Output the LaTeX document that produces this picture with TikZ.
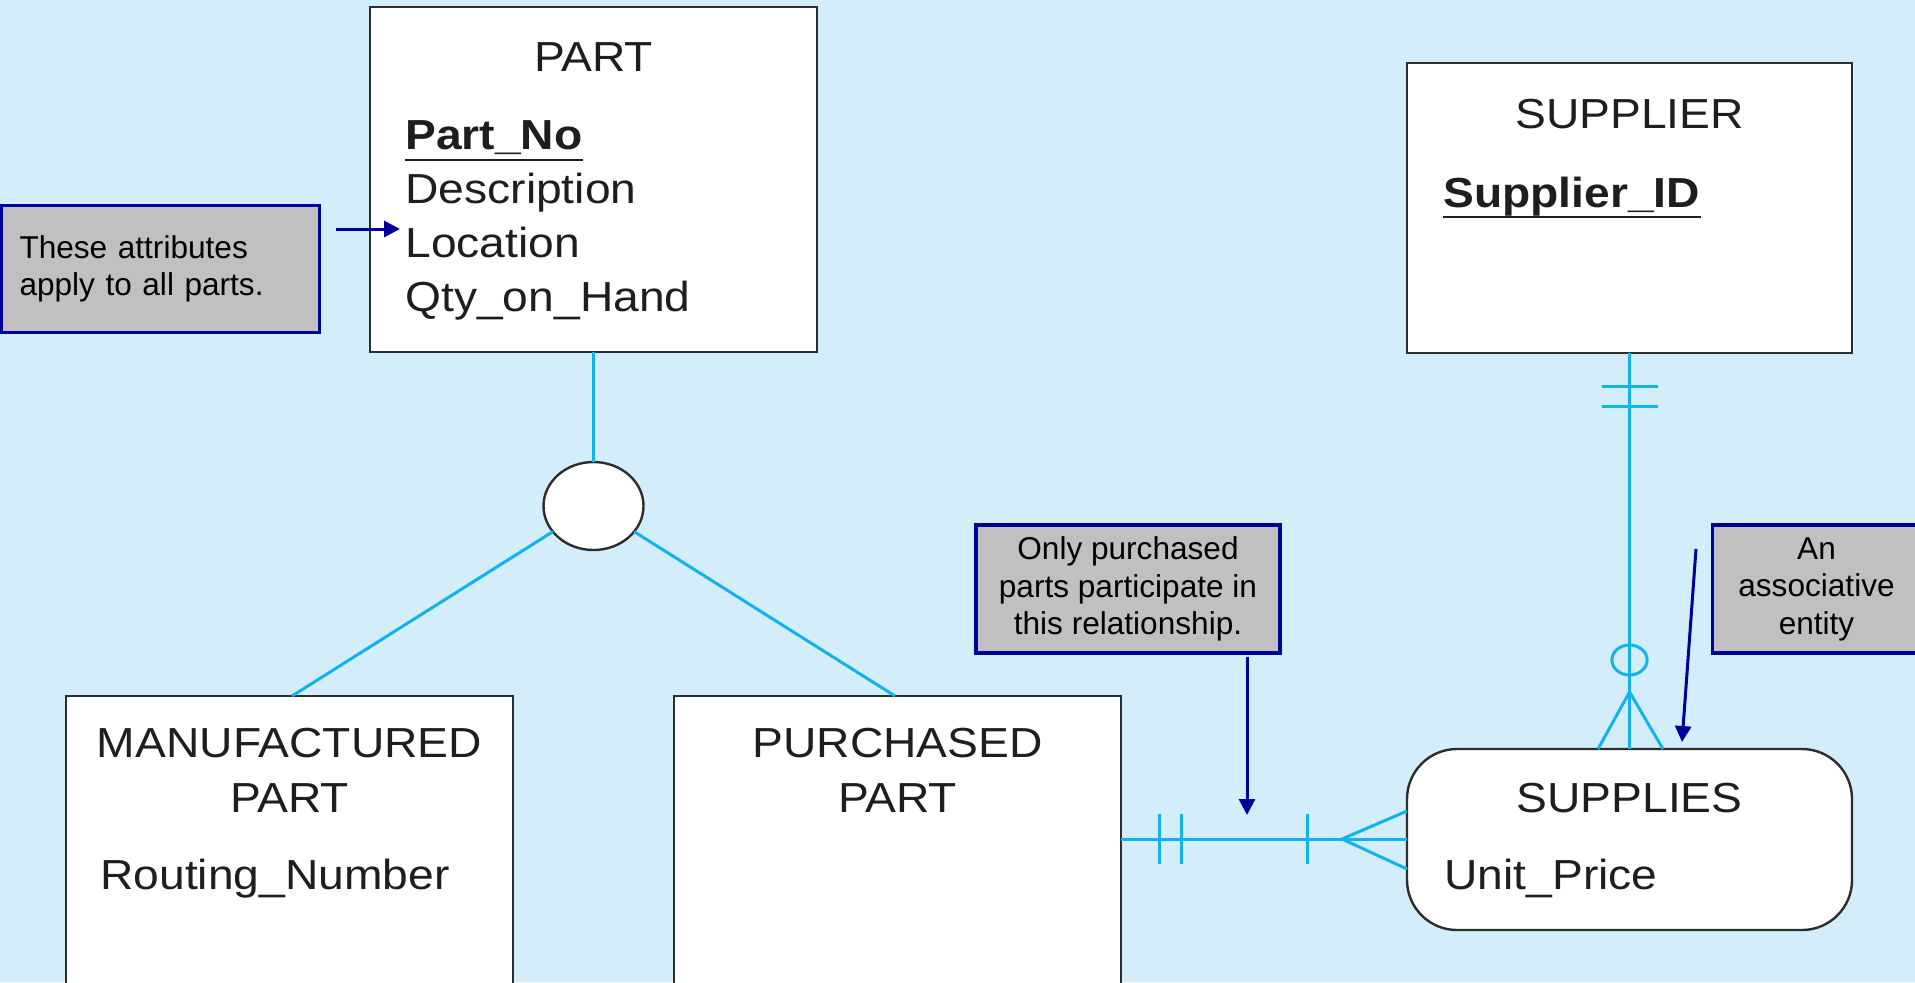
\documentclass[tikz,border=0pt]{standalone}
\usepackage{fontspec}
\setmainfont{Liberation Sans}
\newfontfamily\entfont{Liberation Sans}[FakeStretch=1.1]
\usetikzlibrary{arrows.meta,shapes.geometric}
\definecolor{bg}{RGB}{211,237,250}
\definecolor{conn}{RGB}{18,178,235}
\definecolor{notebd}{RGB}{0,0,153}
\definecolor{notefill}{RGB}{192,192,192}
\definecolor{entbd}{RGB}{45,45,45}
\definecolor{enttxt}{RGB}{30,30,30}
\begin{document}
\begin{tikzpicture}[x=0.5pt,y=-0.5pt,
  entity/.style={draw=entbd, line width=1.2pt, fill=white, inner sep=0pt, outer sep=0pt, anchor=north west},
  etitle/.style={anchor=base, inner sep=0pt, text=enttxt, font=\entfont\fontsize{21}{25}\selectfont},
  eattr/.style={anchor=base west, inner sep=0pt, text=enttxt, font=\entfont\fontsize{21}{25}\selectfont},
  ekey/.style={eattr, font=\entfont\bfseries\fontsize{21}{25}\selectfont},
  uline/.style={draw=enttxt, line width=1pt},
  conn/.style={draw=conn, line width=1.5pt},
  note/.style={draw=notebd, line width=1.6pt, fill=notefill, inner sep=0pt, outer sep=0pt, text=black,
               font=\fontsize{15.8}{18.7}\selectfont},
  arr/.style={draw=notebd, line width=1.5pt, -{Triangle[length=8pt,width=8pt]}}
]
\useasboundingbox (0,0) rectangle (1915,982);
\clip (0,0) rectangle (1915,982);
\fill[bg] (0,0) rectangle (1915,982);

% ---------- entities ----------
\node[entity, minimum width=223.5pt, minimum height=172.5pt] (part) at (370,7) {};
\node[etitle] (partT) at (593.5,71) {PART};
\node[ekey] (partNo) at (405,149) {Part\_No};
\draw[uline] ([yshift=-5.5pt]partNo.base west) -- ([yshift=-5.5pt]partNo.base east);
\node[eattr] (partDesc) at (405,203) {Description};
\node[eattr] (partLoc) at (405,257) {Location};
\node[eattr] (partQty) at (405,311) {Qty\_on\_Hand};

\node[entity, minimum width=222.5pt, minimum height=145pt] (supplier) at (1407,63) {};
\node[etitle] (supT) at (1629.5,128) {SUPPLIER};
\node[ekey] (supId) at (1443,207) {Supplier\_ID};
\draw[uline] ([yshift=-5pt]supId.base west) -- ([yshift=-5pt]supId.base east);

\node[entity, minimum width=223.5pt, minimum height=160pt] (mpart) at (66,696) {};
\node[etitle] (mpT1) at (289.5,757) {MANUFACTURED};
\node[etitle] (mpT2) at (289.5,812) {PART};
\node[eattr] (mpRoute) at (100,889) {Routing\_Number};

\node[entity, minimum width=223.5pt, minimum height=160pt] (ppart) at (674,696) {};
\node[etitle] (ppT1) at (897.5,757) {PURCHASED};
\node[etitle] (ppT2) at (897.5,812) {PART};

\node[entity, rounded corners=25pt, minimum width=222.5pt, minimum height=90.5pt] (supplies) at (1407,749) {};
\node[etitle] (suppliesT) at (1629.5,812) {SUPPLIES};
\node[eattr] (suppliesPrice) at (1444,889) {Unit\_Price};

% ---------- subtype circle ----------
\node[draw=entbd, line width=1.2pt, fill=white, ellipse, minimum width=50pt, minimum height=44pt,
      inner sep=0pt, outer sep=0pt] (ell) at (593.5,506) {};
\coordinate (mtop) at (292,696);
\coordinate (ptop) at (895,696);
\draw[conn] (part.south) -- (ell.north);
\draw[conn] (ell) -- (mtop);
\draw[conn] (ell) -- (ptop);

% ---------- PURCHASED PART -- SUPPLIES ----------
\coordinate (hL) at (1121,839);
\draw[conn] (ppart.east |- hL) -- (supplies.west |- hL);
\coordinate (tk1) at (1159,839);
\coordinate (tk2) at (1181,839);
\coordinate (tk3) at (1307,839);
\draw[conn] ([yshift=12.3pt]tk1) -- ([yshift=-12.3pt]tk1);
\draw[conn] ([yshift=12.3pt]tk2) -- ([yshift=-12.3pt]tk2);
\draw[conn] ([yshift=12.3pt]tk3) -- ([yshift=-12.3pt]tk3);
\coordinate (cfh) at (1342,839);
\coordinate (cfh1) at (1407,811);
\coordinate (cfh2) at (1407,869);
\draw[conn] (cfh1) -- (cfh) -- (cfh2);

% ---------- SUPPLIER -- SUPPLIES ----------
\draw[conn] (supplier.south) -- (supplies.north);
\coordinate (tv1) at (1629.5,386);
\coordinate (tv2) at (1629.5,406);
\draw[conn] ([xshift=-14pt]tv1) -- ([xshift=14pt]tv1);
\draw[conn] ([xshift=-14pt]tv2) -- ([xshift=14pt]tv2);
\node[draw=conn, line width=1.5pt, ellipse, minimum width=17.6pt, minimum height=15pt, inner sep=0pt] (opt) at (1629.5,660) {};
\coordinate (cfv) at (1629.5,692);
\coordinate (cfv1) at (1598,749);
\coordinate (cfv2) at (1663,749);
\draw[conn] (cfv1) -- (cfv) -- (cfv2);

% ---------- notes ----------
\node[note, anchor=north west, minimum width=159pt, minimum height=63.5pt,
      text width=141pt, inner xsep=9pt, align=left] (n1) at (1.5,205.5)
      {These attributes\\apply to all parts.};
\node[note, anchor=north west, minimum width=152pt, minimum height=64pt, align=center] (n2) at (976,525)
      {Only purchased\\parts participate in\\this relationship.};
\node[note, anchor=north west, minimum width=104pt, minimum height=64pt, align=center] (n3) at (1712.5,525)
      {An\\associative\\entity};

% ---------- arrows ----------
\coordinate (a1s) at (336,229);
\coordinate (a1e) at (400,229);
\draw[arr] (a1s) -- (a1e);
\coordinate (a2s) at (1247,657);
\coordinate (a2e) at (1247,815);
\draw[arr] (a2s) -- (a2e);
\coordinate (a3s) at (1696,549);
\coordinate (a3e) at (1682,742);
\draw[arr] (a3s) -- (a3e);
\end{tikzpicture}
\end{document}
